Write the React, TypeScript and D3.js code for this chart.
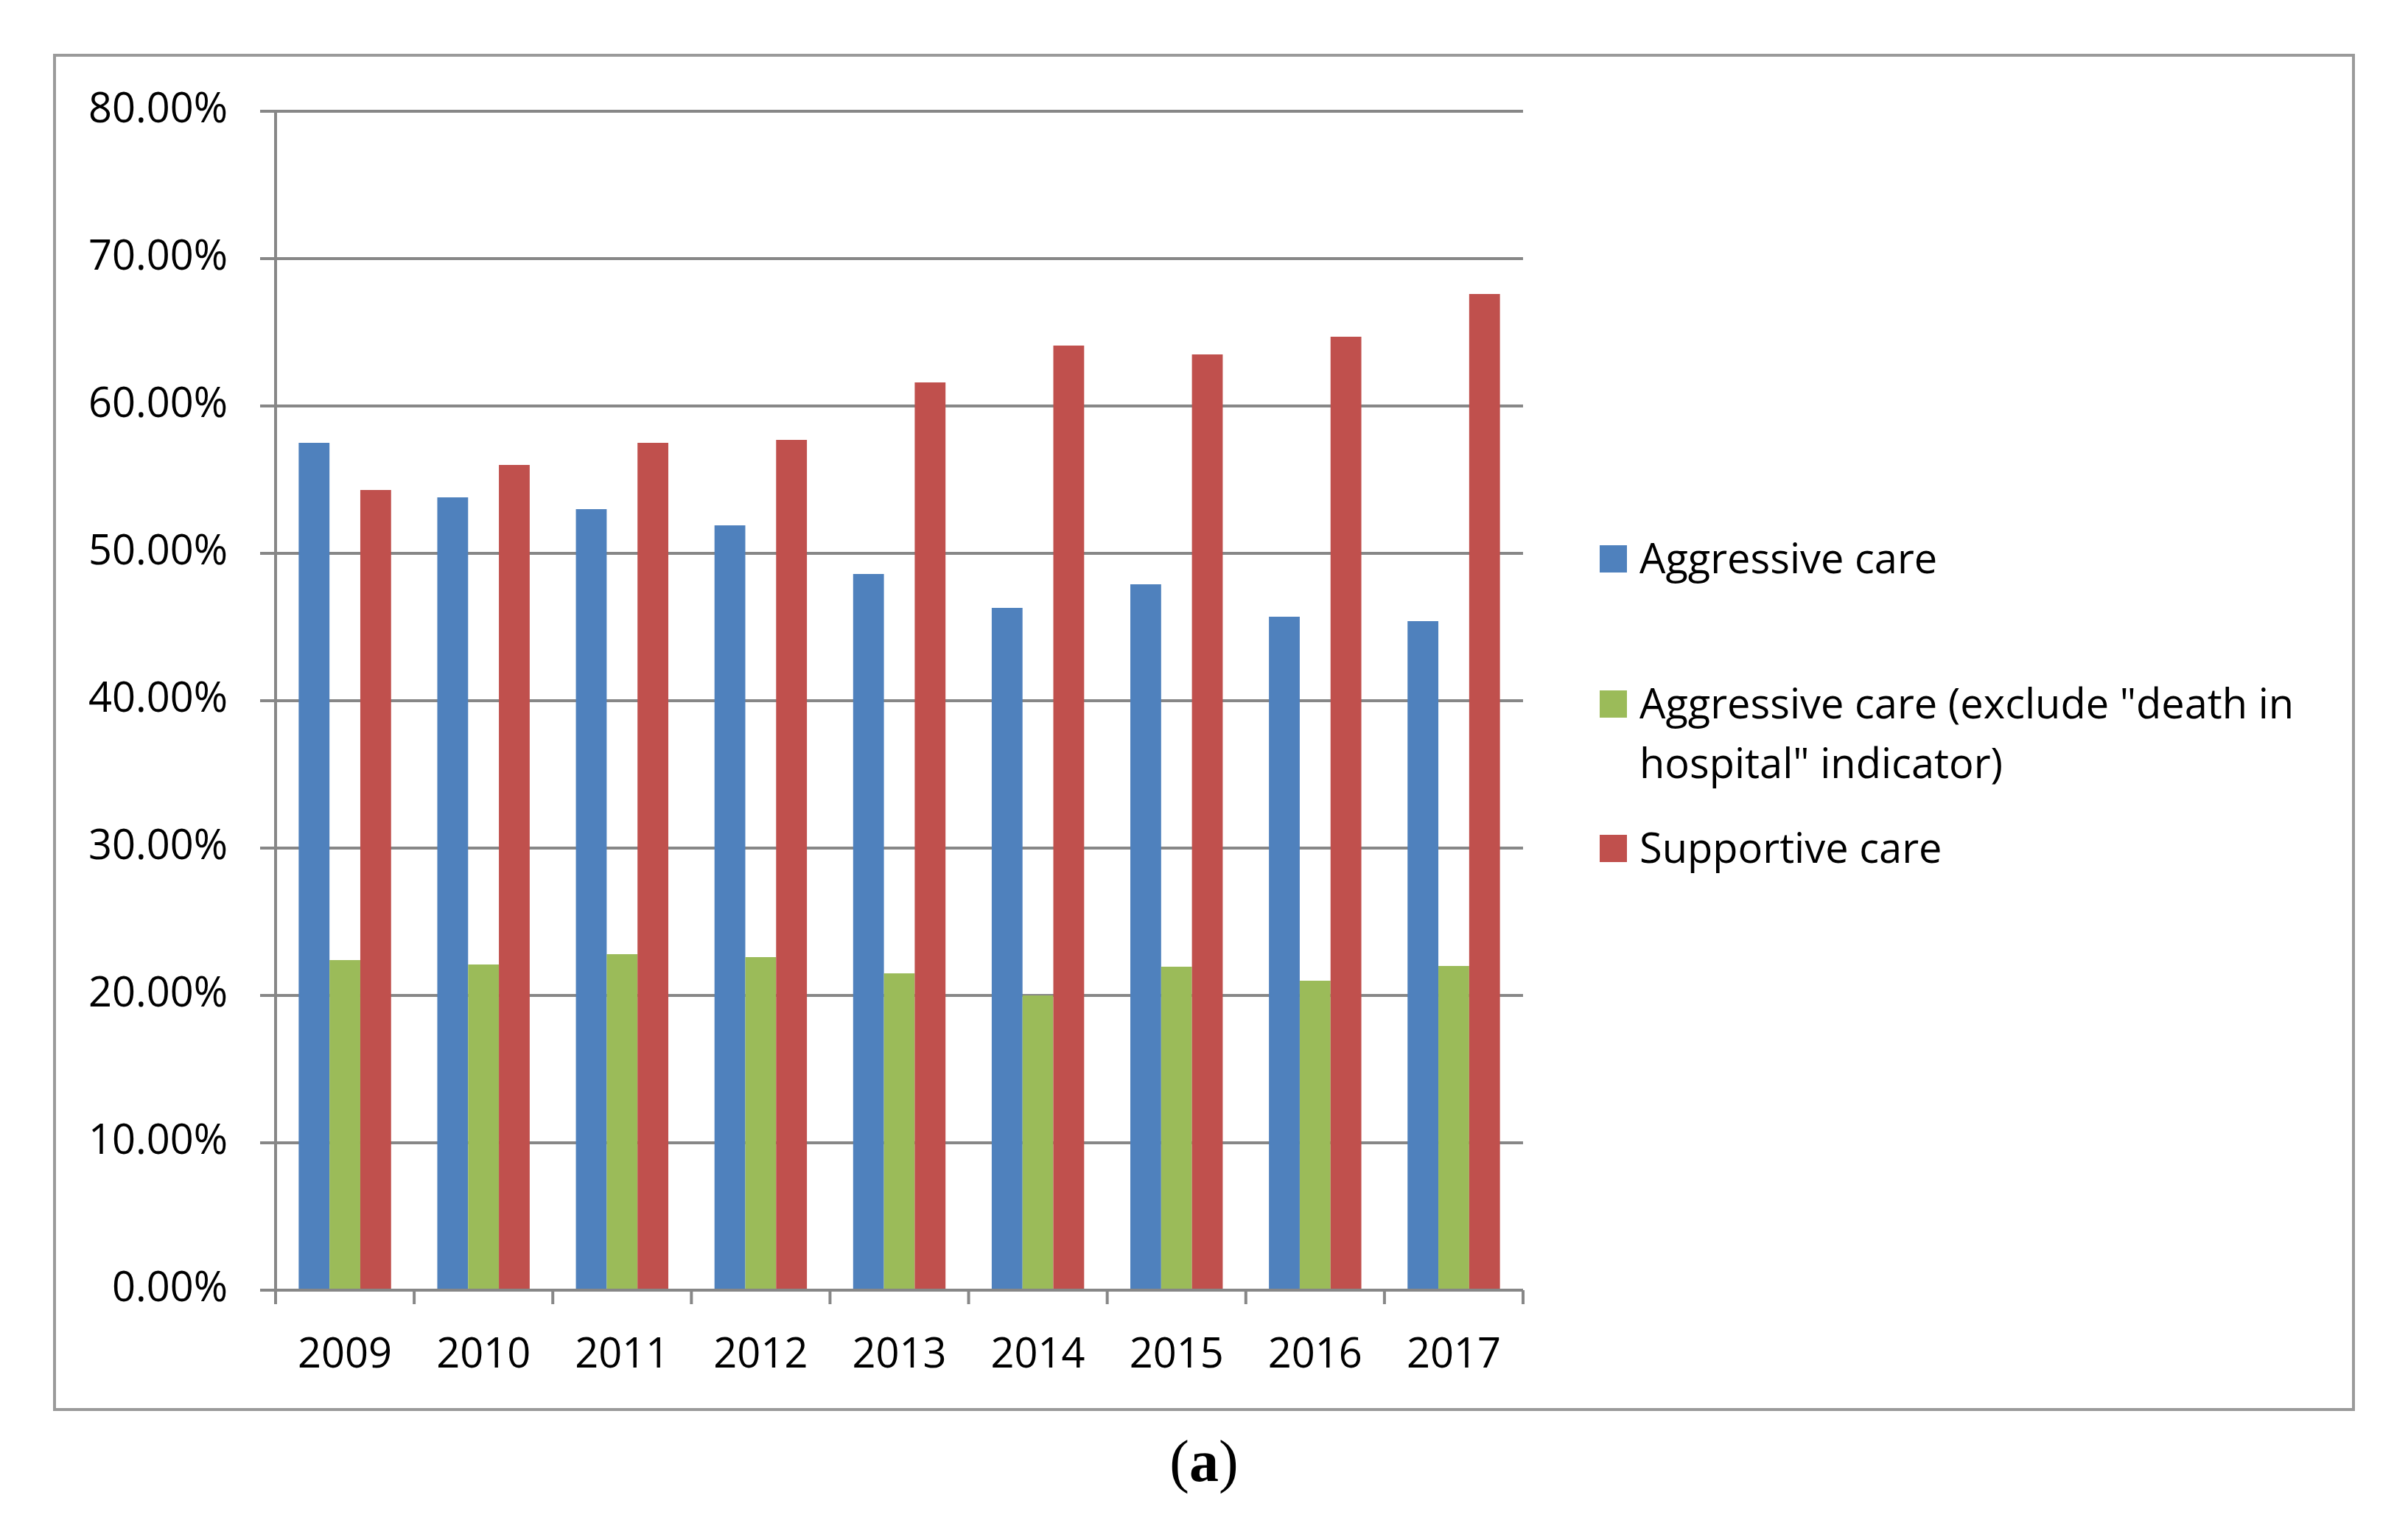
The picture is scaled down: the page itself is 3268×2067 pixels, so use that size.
import * as d3 from 'd3';

const years = ['2009', '2010', '2011', '2012', '2013', '2014', '2015', '2016', '2017'];
const aggressive = [0.575, 0.538, 0.530, 0.519, 0.486, 0.463, 0.479, 0.457, 0.454];
const aggressiveExcl = [0.224, 0.221, 0.228, 0.226, 0.215, 0.200, 0.2195, 0.210, 0.220];
const supportive = [0.543, 0.560, 0.575, 0.577, 0.616, 0.641, 0.635, 0.647, 0.676];
const yTicks = [0, 0.1, 0.2, 0.3, 0.4, 0.5, 0.6, 0.7, 0.8];

const seriesNames = ['Aggressive care', 'Aggressive care (exclude "death in hospital" indicator)', 'Supportive care'];
const seriesColours = ['#4F81BD', '#9BBB59', '#C0504D'];
const seriesValues = [aggressive, aggressiveExcl, supportive];

const W = 3268;
const H = 2067;
const left = 374;
const right = 2067;
const top = 151;
const bottom = 1751;
const font = '"Open Sans", sans-serif';
const grid = '#878787';

export default function App() {
  const x = d3.scaleBand<string>().domain(years).range([left, right]);
  const bw = x.bandwidth();
  // excel default gap width 150%
  const inner = d3.scaleBand<number>()
    .domain([0, 1, 2])
    .range([bw * 0.75 / 4.5, bw * 3.75 / 4.5]);
  const y = d3.scaleLinear().domain([0, 0.8]).range([bottom, top]);
  const fmt = d3.format('.2%');

  const legendRows = [
    { lines: [seriesNames[0]], base: 778 },
    { lines: ['Aggressive care (exclude "death in', 'hospital" indicator)'], base: 975 },
    { lines: [seriesNames[2]], base: 1171 },
  ];

  return (
    <svg width={W} height={H} style={{ position: 'absolute', left: 0, top: 0, background: '#fff' }}>
      <rect x={0} y={0} width={W} height={H} fill="#fff" />
      <rect x={74} y={75} width={3194 - 74} height={1913 - 75} fill="none" stroke="#9a9a9a" strokeWidth={4} />

      {yTicks.filter(t => t > 0).map(t => (
        <line key={'g' + t} x1={left} x2={right} y1={y(t)} y2={y(t)} stroke={grid} strokeWidth={4} />
      ))}

      {years.map((yr, i) => (
        <g key={yr}>
          {seriesValues.map((vals, s) => (
            <rect
              key={s}
              x={(x(yr) as number) + (inner(s) as number)}
              y={y(vals[i])}
              width={inner.bandwidth()}
              height={bottom - y(vals[i])}
              fill={seriesColours[s]}
            />
          ))}
        </g>
      ))}

      {/* axes */}
      <line x1={left} x2={left} y1={top - 2} y2={bottom + 2} stroke={grid} strokeWidth={4} />
      <line x1={left - 21} x2={right} y1={bottom} y2={bottom} stroke={grid} strokeWidth={4} />
      {yTicks.map(t => (
        <line key={'yt' + t} x1={left - 21} x2={left} y1={y(t)} y2={y(t)} stroke={grid} strokeWidth={4} />
      ))}
      {[...years.map(yr => x(yr) as number), right].map((px, i) => (
        <line key={'xt' + i} x1={px} x2={px} y1={bottom} y2={bottom + 19} stroke={grid} strokeWidth={4} />
      ))}

      {yTicks.map(t => (
        <text key={'yl' + t} x={309} y={y(t) + 15} textAnchor="end" fontFamily={font} fontSize={56} fill="#000">
          {fmt(t)}
        </text>
      ))}
      {years.map(yr => (
        <text key={'xl' + yr} x={(x(yr) as number) + bw / 2} y={1856} textAnchor="middle" fontFamily={font} fontSize={56} fill="#000">
          {yr}
        </text>
      ))}

      {legendRows.map((row, s) => (
        <g key={'lg' + s}>
          <rect x={2171} y={row.base - 38} width={37} height={37} fill={seriesColours[s]} />
          {row.lines.map((ln, j) => (
            <text key={j} x={2225} y={row.base + j * 81} fontFamily={font} fontSize={56} fill="#000">
              {ln}
            </text>
          ))}
        </g>
      ))}

      <text x={W / 2} y={2010} textAnchor="middle" fontFamily='"Liberation Serif", "DejaVu Serif", serif' fontSize={80} fill="#000">
        (<tspan fontWeight="bold">a</tspan>)
      </text>
    </svg>
  );
}
